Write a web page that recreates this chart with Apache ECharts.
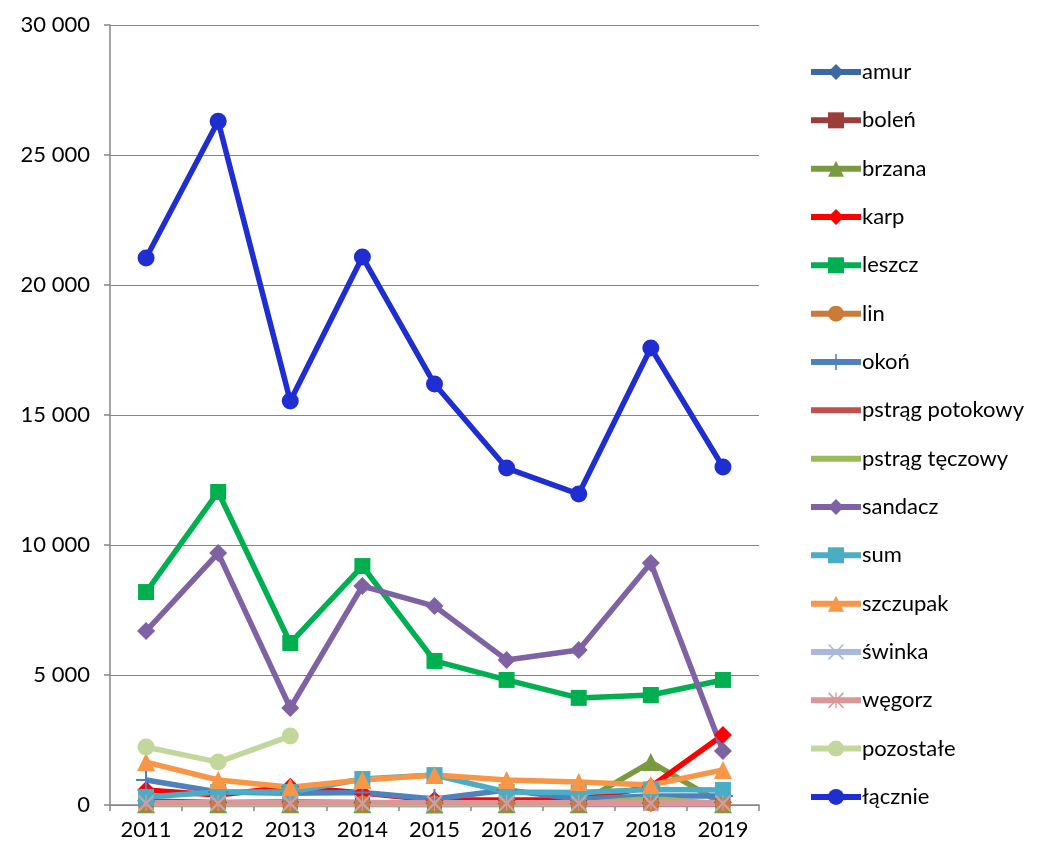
<!DOCTYPE html>
<html><head><meta charset="utf-8">
<script src="https://cdn.jsdelivr.net/npm/echarts@6/dist/echarts.min.js"></script>
<style>html,body{margin:0;padding:0;background:#fff}#c{width:1044px;height:851px}</style>
</head><body><div id="c"></div>
<script>
const years = ['2011','2012','2013','2014','2015','2016','2017','2018','2019'];
const amur = [150, 100, 120, 100, 80, 60, 50, 80, 100];
const bolen = [100, 80, 60, 80, 60, 60, 60, 80, 60];
const brzana = [30, 30, 30, 30, 20, 30, 30, 1650, 30];
const karp = [580, 380, 700, 460, 190, 190, 190, 700, 2690];
const leszcz = [8190, 12040, 6230, 9190, 5540, 4810, 4120, 4230, 4810];
const lin = [60, 60, 60, 60, 60, 60, 60, 60, 60];
const okon = [960, 500, 450, 480, 230, 580, 230, 350, 350];
const pstragPotokowy = [20, 20, 20, 20, 20, 20, 20, 20, 20];
const pstragTeczowy = [40, 40, 40, 40, 40, 40, 40, 250, 40];
const sandacz = [6690, 9690, 3730, 8420, 7650, 5580, 5960, 9310, 2080];
const sum = [310, 500, 500, 1000, 1150, 500, 480, 600, 580];
const szczupak = [1650, 960, 680, 960, 1150, 960, 880, 770, 1350];
const swinka = [50, 50, 50, 50, 50, 50, 50, 50, 50];
const wegorz = [90, 90, 90, 90, 90, 90, 90, 90, 90];
const pozostale = [2230, 1650, 2650, null, null, null, null, null, null];
const lacznie = [21040, 26300, 15540, 21080, 16190, 12960, 11960, 17580, 13000];

const FONT = 'Lato';
const plus = 'path://M4.5,0 L5.5,0 L5.5,10 L4.5,10 Z M0,4.5 L10,4.5 L10,5.5 L0,5.5 Z';
const xmark = 'path://M0,0.7 L0.7,0 L10,9.3 L9.3,10 Z M9.3,0 L10,0.7 L0.7,10 L0,9.3 Z';
const star = 'path://M0,0.7 L0.7,0 L10,9.3 L9.3,10 Z M9.3,0 L10,0.7 L0.7,10 L0,9.3 Z M4.6,0 L5.4,0 L5.4,10 L4.6,10 Z';

function s(name, data, color, symbol, size, width) {
  return {
    name, type: 'line', data,
    symbol: symbol || 'none', symbolSize: size || 14,
    showSymbol: !!symbol,
    lineStyle: { color, width: width || 5.5 },
    itemStyle: { color, borderWidth: 0 },
    connectNulls: false,
    animation: false
  };
}

const series = [
  s('amur', amur, '#3b6aa3', 'diamond', 18),
  s('boleń', bolen, '#9a3d3b', 'rect', 15),
  s('brzana', brzana, '#7a9a40', 'triangle', 18),
  s('karp', karp, '#ff0000', 'diamond', 18),
  s('leszcz', leszcz, '#00b050', 'rect', 16),
  s('lin', lin, '#cc7a38', 'circle', 16),
  s('okoń', okon, '#4f81bd', plus, 20),
  s('pstrąg potokowy', pstragPotokowy, '#c0504d', null),
  s('pstrąg tęczowy', pstragTeczowy, '#9bbb59', null),
  s('sandacz', sandacz, '#7f62a3', 'diamond', 18),
  s('sum', sum, '#4bacc6', 'rect', 16),
  s('szczupak', szczupak, '#f79646', 'triangle', 18),
  s('świnka', swinka, '#a6b9dc', xmark, 16),
  s('węgorz', wegorz, '#d99795', star, 16),
  s('pozostałe', pozostale, '#c3d69b', 'circle', 17),
  s('łącznie', lacznie, '#1f2ed0', 'circle', 17)
];

const legendData = series.map(x => x.showSymbol ? { name: x.name } : { name: x.name, itemStyle: { opacity: 0 } });

const chart = echarts.init(document.getElementById('c'), null, { renderer: 'canvas' });
chart.setOption({
  backgroundColor: '#fff',
  animation: false,
  textStyle: { fontFamily: FONT },
  grid: { left: 110, right: 285, top: 25, bottom: 46, containLabel: false },
  legend: {
    orient: 'vertical', left: 803, top: 56,
    itemWidth: 50, itemHeight: 20, itemGap: 26.33,
    lineStyle: { width: 6 },
    textStyle: { fontFamily: FONT, fontSize: 22, color: '#000', padding: [0, 0, 0, -4] },
    data: legendData
  },
  xAxis: {
    type: 'category', data: years, boundaryGap: true,
    axisLine: { lineStyle: { color: '#868686', width: 1.5 } },
    axisTick: { show: true, length: 6, lineStyle: { color: '#868686', width: 1.5 } },
    axisLabel: { fontFamily: FONT, fontSize: 22, color: '#000', margin: 14 },
    splitLine: { show: false }
  },
  yAxis: {
    type: 'value', min: 0, max: 30000, interval: 5000,
    axisLine: { show: true, lineStyle: { color: '#868686', width: 1.5 } },
    axisTick: { show: true, length: 6, lineStyle: { color: '#868686', width: 1.5 } },
    axisLabel: {
      fontFamily: FONT, fontSize: 22, color: '#000', margin: 20,
      formatter: v => String(v).replace(/\B(?=(\d{3})+(?!\d))/g, ' ')
    },
    splitLine: { show: true, lineStyle: { color: '#868686', width: 1.2 } }
  },
  series
});
</script></body></html>
